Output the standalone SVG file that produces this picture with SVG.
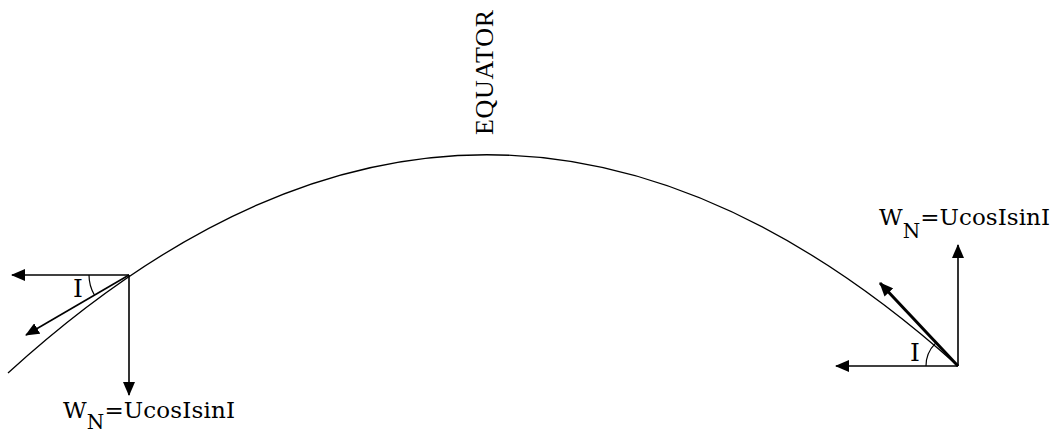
<svg xmlns="http://www.w3.org/2000/svg" width="1056" height="435" viewBox="0 0 1056 435">
<style>
.ln{stroke:#000;stroke-width:1.6;fill:none}
.thick{stroke:#000;stroke-width:3;fill:none}
.crv{stroke:#000;stroke-width:1.3;fill:none}
.arc{stroke:#000;stroke-width:1.2;fill:none}
.t{font-family:"DejaVu Serif","Liberation Serif",serif;font-size:23px;fill:#000}
.ang{font-family:"DejaVu Serif","Liberation Serif",serif;font-size:25px;fill:#000}
.eq{font-family:"Liberation Serif","Times New Roman",serif;font-size:26px;fill:#000}
</style>
<defs>
<marker id="ah" markerUnits="userSpaceOnUse" markerWidth="14" markerHeight="12" refX="13" refY="6" orient="auto">
<path d="M0,0 L14,6 L0,12 Z" fill="#000"/>
</marker>
</defs>
<rect width="1056" height="435" fill="#fff"/>
<g id="equator">
<path class="crv" d="M8,373 Q483,-60 958,366"/>
<text class="eq" transform="translate(493,135) rotate(-90)" textLength="125">EQUATOR</text>
</g>
<g id="connectors">
<line class="ln" x1="129" y1="275" x2="12" y2="275" marker-end="url(#ah)"/>
<line class="ln" x1="129" y1="275" x2="129" y2="395" marker-end="url(#ah)"/>
<line class="ln" x1="129" y1="275" x2="26" y2="335" marker-end="url(#ah)"/>
<line class="ln" x1="958" y1="366" x2="836" y2="366" marker-end="url(#ah)"/>
<line class="ln" x1="958" y1="366" x2="958" y2="245" marker-end="url(#ah)"/>
<line class="thick" x1="958" y1="366" x2="880" y2="283" marker-end="url(#ah)"/>
</g>
<g id="left-node">
<path class="arc" d="M89,275 A40,40 0 0 0 94.4,295"/>
<text class="ang" x="78" y="297" text-anchor="middle">I</text>
<text class="t" x="63" y="418" textLength="172">W<tspan font-size="20" dy="11">N</tspan><tspan dy="-11">=UcosIsinI</tspan></text>
</g>
<g id="right-node">
<path class="arc" d="M926,366 A32,32 0 0 1 935.4,343.4"/>
<text class="ang" x="915" y="361" text-anchor="middle">I</text>
<text class="t" x="879" y="225" textLength="171">W<tspan font-size="20" dy="13">N</tspan><tspan dy="-13">=UcosIsinI</tspan></text>
</g>
</svg>
